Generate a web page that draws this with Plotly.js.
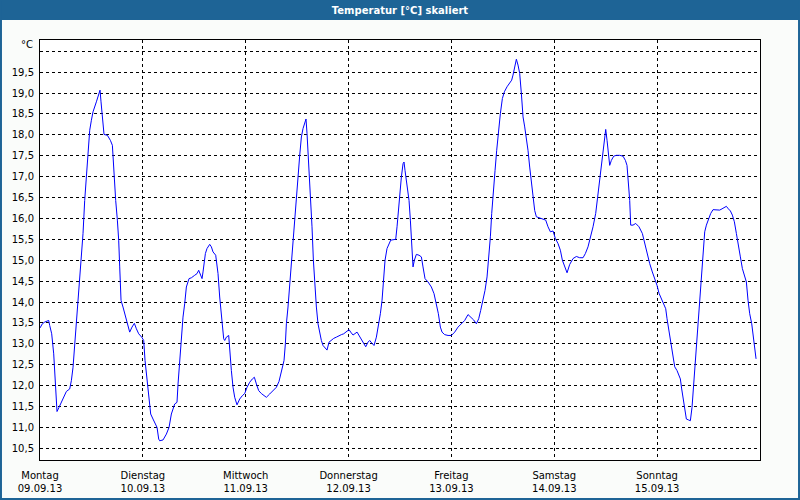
<!DOCTYPE html>
<html>
<head>
<meta charset="utf-8">
<script src="https://cdn.plot.ly/plotly-3.0.1.min.js"></script>
<style>html,body{margin:0;padding:0;background:#fafcfa;}#chart{width:800px;height:500px;}</style>
</head>
<body>
<div id="chart"></div>
<script>
// Hours since Monday 09.09.2013 00:00
const hours = [
0.0,0.55,1.10,2.03,2.26,2.73,3.20,3.43,3.66,3.97,4.44,4.99,5.53,6.15,6.93,7.32,7.71,8.10,8.49,8.87,9.26,9.65,10.04,10.43,10.82,11.21,11.60,11.99,12.37,13.15,13.70,14.01,14.24,14.55,14.94,15.72,16.42,16.89,17.20,17.66,18.05,18.36,18.60,18.91,19.37,20.00,20.54,20.93,21.47,22.02,22.49,23.03,23.73,24.20,24.51,24.97,25.44,25.83,26.37,27.00,27.31,27.70,
27.93,28.71,29.49,30.11,30.65,31.43,31.97,32.21,32.60,32.99,33.37,33.76,34.15,34.77,35.32,36.10,36.64,37.03,37.42,37.81,38.04,38.59,38.97,39.60,39.99,40.37,41.00,41.54,41.93,42.40,42.86,43.10,43.49,44.03,44.26,44.65,45.04,45.43,45.97,46.60,47.22,47.76,48.31,48.93,49.55,50.02,50.49,51.03,51.65,52.27,52.82,53.60,54.37,55.15,55.77,
55.93,56.55,56.94,57.25,57.49,57.87,58.26,58.65,59.04,59.43,59.82,60.21,60.60,60.99,61.37,61.76,62.07,62.31,62.77,63.09,63.47,63.79,64.10,64.49,64.87,65.26,65.65,66.04,66.43,66.97,67.44,67.99,68.53,69.15,69.77,70.32,70.86,71.33,72.11,72.50,73.04,73.98,74.44,74.99,75.53,76.00,76.54,76.93,77.40,77.94,78.49,78.95,79.42,79.81,80.20,80.51,80.97,81.44,81.83,82.37,83.00,83.31,83.54,
83.93,84.32,84.71,84.94,85.17,85.64,86.11,86.42,86.73,87.04,87.35,87.82,88.44,88.99,89.37,89.84,90.54,91.32,91.94,92.49,92.95,93.42,93.81,94.43,95.21,95.99,96.76,97.54,98.32,99.10,99.87,100.42,101.20,101.82,102.36,102.83,103.37,103.84,104.31,104.70,105.09,105.40,105.79,106.18,106.56,106.95,107.42,107.89,108.35,108.97,109.60,110.06,110.37,110.76,111.15,111.54,111.93,
112.32,112.71,113.10,113.49,113.87,114.26,114.65,115.04,115.43,115.82,116.60,117.37,118.00,118.54,119.09,119.71,120.25,120.87,121.42,121.89,122.43,122.98,123.60,124.37,125.15,125.93,126.71,127.25,127.87,128.42,129.04,129.66,130.21,130.60,130.99,131.37,131.69,132.00,132.31,132.62,132.93,133.32,133.86,134.49,135.26,136.04,136.59,136.97,137.29,137.60,137.83,138.37,139.00,139.77,
140.55,141.10,141.64,142.26,142.88,143.43,143.97,144.44,144.99,145.53,146.00,146.31,146.77,147.24,147.71,148.10,148.64,149.11,149.42,149.73,150.04,150.43,150.82,151.29,151.75,152.14,152.53,152.92,153.31,153.70,154.09,154.48,154.79,155.10,155.49,156.03,156.50,157.04,157.82,158.60,159.14,159.61,160.15,160.62,161.09,161.55,162.02,162.49,162.95,163.42,163.89,164.43,164.82,165.21,165.60,166.07,166.46,166.77,167.08
];
const temps = [
13.38,13.48,13.52,13.56,13.44,13.24,12.76,12.36,11.96,11.38,11.48,11.60,11.72,11.86,11.92,12.12,12.44,13.00,13.48,14.04,14.44,15.00,15.64,16.43,16.99,17.51,18.11,18.35,18.55,18.79,18.95,19.07,18.79,18.43,18.01,17.99,17.87,17.75,17.07,16.43,15.96,15.48,14.84,14.04,13.88,13.64,13.40,13.28,13.40,13.49,13.36,13.24,13.16,13.08,12.60,12.12,11.80,11.32,11.20,11.08,11.00,10.72,
10.68,10.70,10.84,11.00,11.32,11.56,11.60,12.04,12.60,13.24,13.64,13.96,14.36,14.56,14.58,14.64,14.68,14.76,14.64,14.56,14.72,15.16,15.28,15.38,15.32,15.20,15.12,14.68,14.12,13.56,13.12,13.08,13.16,13.20,12.84,12.36,11.96,11.72,11.54,11.68,11.76,11.81,11.96,12.08,12.16,12.20,12.04,11.88,11.81,11.76,11.72,11.80,11.88,11.96,12.10,
12.16,12.44,12.60,13.00,13.48,13.88,14.44,14.84,15.32,15.88,16.43,16.99,17.51,17.95,18.15,18.27,18.38,18.03,17.23,16.51,15.80,15.00,14.36,13.88,13.48,13.24,13.08,12.96,12.92,12.85,13.04,13.09,13.13,13.16,13.20,13.22,13.24,13.28,13.34,13.28,13.21,13.28,13.20,13.08,13.00,12.93,13.04,13.08,13.02,12.96,13.16,13.40,13.72,14.04,14.52,15.00,15.28,15.40,15.48,15.49,15.50,15.80,16.12,
16.55,16.99,17.31,17.35,17.15,16.83,16.43,15.96,15.40,14.84,15.00,15.14,15.12,15.08,14.84,14.56,14.48,14.36,14.20,13.96,13.72,13.40,13.28,13.22,13.20,13.20,13.28,13.40,13.49,13.56,13.70,13.65,13.57,13.48,13.60,13.80,14.04,14.28,14.60,15.00,15.56,16.12,16.75,17.15,17.63,18.11,18.51,18.87,19.03,19.15,19.25,19.31,19.43,19.63,19.81,19.67,19.47,
18.99,18.43,18.19,17.95,17.63,17.23,16.91,16.51,16.19,16.04,16.01,15.98,15.96,15.80,15.68,15.70,15.52,15.40,15.24,15.00,14.84,14.70,14.90,15.04,15.09,15.06,15.06,15.16,15.32,15.52,15.80,16.12,16.59,16.91,17.23,17.51,17.79,18.13,17.87,17.63,17.27,17.39,17.49,17.51,17.51,17.49,17.39,17.27,16.91,16.43,15.84,15.84,15.88,15.80,
15.64,15.40,15.16,14.92,14.72,14.56,14.40,14.21,14.08,13.96,13.84,13.60,13.32,12.96,12.68,12.45,12.36,12.24,12.16,11.92,11.72,11.48,11.20,11.18,11.16,11.48,12.04,12.60,13.24,13.72,14.28,15.00,15.40,15.68,15.84,16.00,16.12,16.21,16.21,16.20,16.23,16.26,16.29,16.23,16.18,16.08,15.92,15.64,15.40,15.08,14.80,14.60,14.48,14.04,13.72,13.48,13.16,12.92,12.64
];
const dayNames = ["Montag","Dienstag","Mittwoch","Donnerstag","Freitag","Samstag","Sonntag"];
const dayDates = ["09.09.13","10.09.13","11.09.13","12.09.13","13.09.13","14.09.13","15.09.13"];
const dayTicks = ["2013-09-09","2013-09-10","2013-09-11","2013-09-12","2013-09-13","2013-09-14","2013-09-15"];
const yTicks = [10.5,11,11.5,12,12.5,13,13.5,14,14.5,15,15.5,16,16.5,17,17.5,18,18.5,19,19.5,20];
const yTickText = ["10,5","11,0","11,5","12,0","12,5","13,0","13,5","14,0","14,5","15,0","15,5","16,0","16,5","17,0","17,5","18,0","18,5","19,0","19,5",""];

function p2(n){return (n<10?"0":"")+n;}
const base = Date.UTC(2013,8,9,0,0,0);
const xs = hours.map(h=>{const d=new Date(base+Math.round(h*3600000));
  return d.getUTCFullYear()+"-"+p2(d.getUTCMonth()+1)+"-"+p2(d.getUTCDate())+" "+p2(d.getUTCHours())+":"+p2(d.getUTCMinutes())+":"+p2(d.getUTCSeconds());});

const font = {family:"DejaVu Sans, Verdana, sans-serif", size:10, color:"#000"};
const trace = {x:xs, y:temps, type:"scatter", mode:"lines", line:{color:"#0000ff", width:1}, hoverinfo:"skip"};
const layout = {
  width:800, height:500,
  margin:{l:40, r:40, t:40, b:40, pad:0},
  paper_bgcolor:"#fafcfa", plot_bgcolor:"#ffffff",
  showlegend:false,
  font: font,
  title:{text:"<b>Temperatur [°C] skaliert</b>", font:{family:"DejaVu Sans, Verdana, sans-serif", size:10, color:"#ffffff"}, x:0.5, xanchor:"center", y:0.98, yanchor:"middle", yref:"container"},
  xaxis:{type:"date", range:["2013-09-09 00:00:00","2013-09-16 00:00:00"],
    tickvals:dayTicks, ticktext:dayNames.map((n,i)=>n+"<br>"+dayDates[i]),
    showgrid:true, gridcolor:"#000", gridwidth:1, griddash:"3px,3px",
    showline:true, linecolor:"#000", linewidth:1, mirror:true, ticks:"", zeroline:false,
    tickfont:font, ticklabelstandoff:6, fixedrange:true},
  yaxis:{range:[10.22,20.27], tickvals:yTicks, ticktext:yTickText,
    showgrid:true, gridcolor:"#000", gridwidth:1, griddash:"3px,3px",
    showline:true, linecolor:"#000", linewidth:1, mirror:true, ticks:"", zeroline:false,
    tickfont:font, ticklabelstandoff:3, fixedrange:true},
  shapes:[
    {type:"rect", xref:"paper", yref:"paper", x0:-0.0556, x1:1.0556, y0:1.0476, y1:1.0952, fillcolor:"#1e6496", line:{width:0}, layer:"below"},
    {type:"rect", xref:"paper", yref:"paper", x0:-0.0542, x1:1.0542, y0:-0.0929, y1:1.0952, fillcolor:"rgba(0,0,0,0)", line:{color:"#1e6496", width:2}}
  ],
  annotations:[
    {text:"°C", xref:"paper", yref:"paper", x:0, y:1 - 5/420, xanchor:"right", yanchor:"middle", xshift:-5, showarrow:false, font:font}
  ]
};
Plotly.newPlot("chart",[trace],layout,{displayModeBar:false, staticPlot:true});
</script>
</body>
</html>
